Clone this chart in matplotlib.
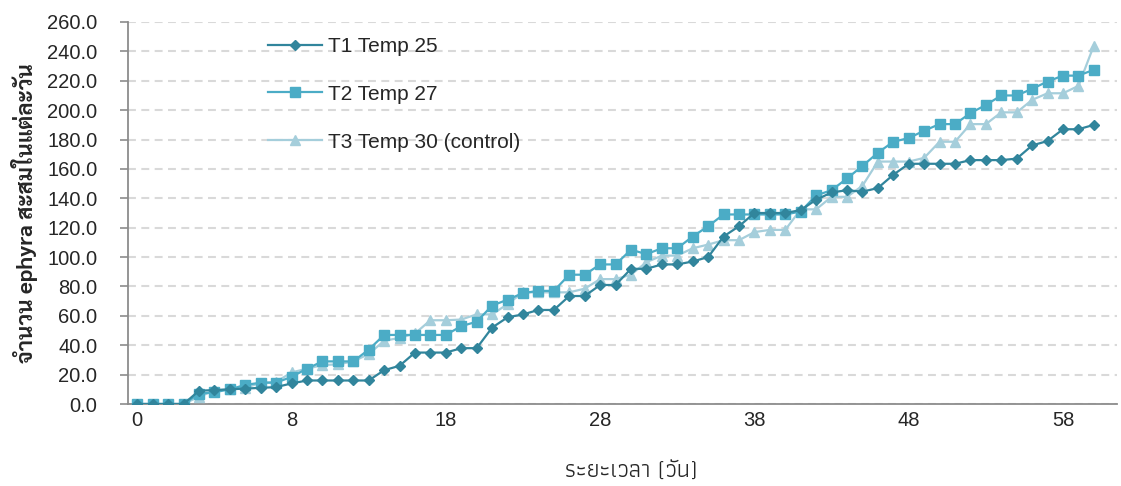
import matplotlib
matplotlib.use("Agg")
import matplotlib.pyplot as plt
from matplotlib import font_manager
import numpy as np

# ---------------- data ----------------
day_index = list(range(63))
tick_positions = [0, 10, 20, 30, 40, 50, 60]
tick_labels = ["0", "8", "18", "28", "38", "48", "58"]
y_ticks = [0, 20, 40, 60, 80, 100, 120, 140, 160, 180, 200, 220, 240, 260]

t1_temp25 = [0, 0, 0, 0, 9, 9.5, 10, 10.5, 11, 11.5,
             14, 16, 16, 16, 16, 16, 23, 26, 35, 35,
             35, 38, 38, 52, 59, 61, 64, 64, 73.5, 73.5,
             81, 81, 92, 92, 95, 95, 97, 100, 114, 121,
             130, 130, 130, 132, 139, 144, 145.5, 144.5, 147, 156,
             163.5, 163.5, 163.5, 163.5, 166, 166, 166, 167, 176, 179,
             187, 187, 190]
t2_temp27 = [0, 0, 0, 0, 7, 8, 10, 13, 14.5, 14.5,
             18.5, 24, 29, 29, 29, 37, 47, 47, 47, 47,
             47, 53, 56, 67, 71, 75.5, 77, 77, 88, 88,
             95, 95, 105, 102, 106, 106, 114, 121, 129, 129,
             129, 129, 129, 131, 142, 145.5, 153.5, 162, 171, 178.5,
             181, 186, 190.5, 190.5, 198, 203.5, 210, 210, 214.5, 219.5,
             223.5, 223.5, 227.5]
t3_temp30 = [0, 0, 0, 0, 5, 9, 10, 11, 14.5, 15,
             21.5, 24, 26.5, 27, 29, 34, 43, 45, 48, 57,
             57, 57.5, 61, 61, 68, 76, 76, 76, 76, 78.5,
             85, 85, 88, 96.5, 101, 101, 106, 108.5, 111.5, 111.5,
             117, 118.5, 118.5, 132.5, 132.5, 141, 141, 148.5, 165, 165,
             165, 167.5, 178.5, 178.5, 190.5, 190.5, 198.5, 198.5, 207, 211.5,
             211.5, 216.5, 244]

series_labels = ["T1 Temp 25", "T2 Temp 27", "T3 Temp 30 (control)"]
x_title = "ระยะเวลา (วัน)"
y_title = "จำนวน ephyra สะสมในแต่ละวัน"

# ---------------- fonts ----------------
installed = {f.name for f in font_manager.fontManager.ttflist}
def pick(cands, default="DejaVu Sans"):
    for c in cands:
        if c in installed:
            return c
    return default

latin = pick(["Liberation Sans", "Arimo", "DejaVu Sans"])
narrow = pick(["Liberation Sans Narrow", "Arimo", "Liberation Sans"])
thai = pick(["Sarabun", "Noto Sans Thai", "Anuphan", "Bai Jamjuree", "Athiti"])
thai_narrow = pick(["Athiti", "Noto Sans Thai", "Sarabun", "Anuphan"])

plt.rcParams["font.family"] = [latin, thai]

c1 = "#31859C"
c2 = "#4BACC6"
c3 = "#A5CEDB"
grid_c = "#D9D9D9"
axis_c = "#8C8C8C"
text_c = "#262626"

fig = plt.figure(figsize=(11.21, 4.86), dpi=100)
L, R, T, B = 128, 1117, 22, 404
ax = fig.add_axes([L / 1121, (486 - B) / 486, (R - L) / 1121, (B - T) / 486])

x = np.array(day_index)
ax.plot(x, t1_temp25, color=c1, lw=1.6, marker="D", ms=5.5, label=series_labels[0], zorder=5)
ax.plot(x, t2_temp27, color=c2, lw=1.6, marker="s", ms=7, label=series_labels[1], zorder=4)
ax.plot(x, t3_temp30, color=c3, lw=1.6, marker="^", ms=7.5, label=series_labels[2], zorder=3)

ax.set_xlim(-0.6, 63.5)
ax.set_ylim(0, 260)
ax.set_yticks(y_ticks)
ax.set_yticklabels([f"{v:.1f}" for v in y_ticks], fontsize=14.5, color=text_c)
ax.set_xticks(tick_positions)
ax.set_xticklabels(tick_labels, fontsize=14.5, color=text_c, family=[narrow, thai])

ax.grid(axis="y", color=grid_c, lw=1.5, linestyle=(0, (3.8, 2.6)), zorder=0)
ax.set_axisbelow(True)
for s in ["top", "right"]:
    ax.spines[s].set_visible(False)
for s in ["left", "bottom"]:
    ax.spines[s].set_color(axis_c)
    ax.spines[s].set_linewidth(1.3)
ax.tick_params(axis="y", direction="out", length=6, width=1.2, color=axis_c, pad=16)
ax.tick_params(axis="x", length=0, pad=5)

leg = ax.legend(loc="upper left", bbox_to_anchor=((268 - L) / (R - L), (B - 37) / (B - T)),
                frameon=False, fontsize=15, labelspacing=1.38, handlelength=2.6,
                handletextpad=0.3, borderpad=0, borderaxespad=0)
for t in leg.get_texts():
    t.set_color(text_c)

fig.text(25 / 1121, (486 - 213) / 486, y_title, rotation=90, ha="center", va="center",
         fontsize=16, fontweight="bold", color=text_c, family=[thai, latin])
fig.text(631 / 1121, (486 - 461) / 486, x_title, ha="center", va="top",
         fontsize=17, color=text_c, family=[thai_narrow, latin])

fig.savefig("out.png", dpi=100)
